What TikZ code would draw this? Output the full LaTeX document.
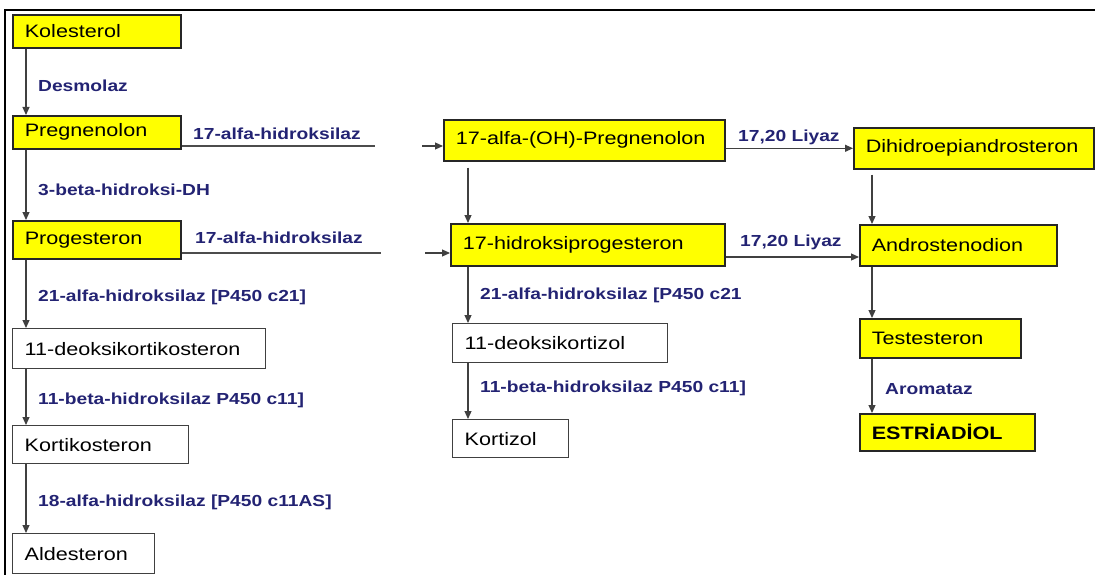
\documentclass[tikz,border=0pt]{standalone}
\usepackage{fontspec}
\setmainfont{Liberation Sans}[FakeStretch=1.2]
\usetikzlibrary{arrows.meta}
\definecolor{enzblue}{RGB}{35,35,115}
\definecolor{boxyellow}{RGB}{255,255,0}
\tikzset{
    %Define standard arrow tip
    >={Triangle[length=8pt,width=7pt]},
    %Define style for boxes
    hormone/.style={
           draw=black!85, line width=1.6pt,
           fill=boxyellow,
           anchor=north west,
           inner xsep=12pt, inner ysep=0pt,
           align=left,
           font=\fontsize{18}{20}\selectfont},
    whitebox/.style={
           hormone,
           draw=black!75, line width=1.3pt,
           fill=white},
    enzyme/.style={
           anchor=west, inner sep=0pt,
           text=enzblue,
           font=\fontsize{16}{18}\selectfont\bfseries},
    % Define arrow style
    pil/.style={
           ->,
           draw=black!75, line width=1.2pt},
    bar/.style={
           draw=black!70, line width=1.2pt}
}
\begin{document}
\begin{tikzpicture}[x=1pt,y=-1pt]
\useasboundingbox (0,0) rectangle (1095,575);
\draw[line width=2pt] (5,575) -- (5,10) -- (1095,10);
 %nodes, left column
\node[hormone, text width=144pt, minimum height=33pt](kol) at (12,14) {Kolesterol};
\node[hormone, text width=144pt, minimum height=33pt](preg) at (12,115) {Pregnenolon};
\node[hormone, text width=144pt, minimum height=38pt](prog) at (12,220) {Progesteron};
\node[whitebox, text width=229pt, minimum height=40pt](dkort) at (12,328) {11-deoksikortikosteron};
\node[whitebox, text width=152pt, minimum height=38pt](kort) at (12,425) {Kortikosteron};
\node[whitebox, text width=118pt, minimum height=40pt](ald) at (12,533) {Aldesteron};
 %nodes, middle column
\node[hormone, text width=257pt, minimum height=41pt](oh) at (443,119) {17-alfa-(OH)-Pregnenolon};
\node[hormone, text width=250pt, minimum height=42pt](ohp) at (450,223) {17-hidroksiprogesteron};
\node[whitebox, text width=191pt, minimum height=39pt](dkzol) at (452,323) {11-deoksikortizol};
\node[whitebox, text width=92pt, minimum height=38pt](kzol) at (452,419) {Kortizol};
 %nodes, right column
\node[hormone, text width=216pt, minimum height=41pt](dhea) at (853,127) {Dihidroepiandrosteron};
\node[hormone, text width=173pt, minimum height=41pt](andr) at (859,224) {Androstenodion};
\node[hormone, text width=137pt, minimum height=39pt](test) at (859,318) {Testesteron};
\node[hormone, text width=151pt, minimum height=37pt, font=\fontsize{18}{20}\selectfont\bfseries](estr) at (859,413) {ESTRİADİOL};
 %enzymes
\node[enzyme](desm) at (38,86) {Desmolaz};
\node[enzyme](hyda) at (193,134) {17-alfa-hidroksilaz};
\node[enzyme](bdh) at (38,190) {3-beta-hidroksi-DH};
\node[enzyme](hydb) at (195,238) {17-alfa-hidroksilaz};
\node[enzyme](hydc) at (38,297) {21-alfa-hidroksilaz [P450 c21]};
\node[enzyme](hydd) at (38,400) {11-beta-hidroksilaz P450 c11]};
\node[enzyme](hyde) at (38,502) {18-alfa-hidroksilaz [P450 c11AS]};
\node[enzyme](hydf) at (480,295) {21-alfa-hidroksilaz [P450 c21};
\node[enzyme](hydg) at (480,388) {11-beta-hidroksilaz P450 c11]};
\node[enzyme](lya) at (738,137) {17,20 Liyaz};
\node[enzyme](lyb) at (740,242) {17,20 Liyaz};
\node[enzyme](arom) at (885,389) {Aromataz};
 %helper coordinates
\coordinate (lft) at (26,0);
\coordinate (mid) at (468,0);
\coordinate (rgt) at (872,0);
\coordinate (ga) at (375,146);
\coordinate (gb) at (422,146);
\coordinate (gc) at (381,253);
\coordinate (gd) at (425,253);
\coordinate (ge) at (0,257);
 %connectors
\draw[pil] (kol.south -| lft) -- (preg.north -| lft);
\draw[pil] (preg.south -| lft) -- (prog.north -| lft);
\draw[pil] (prog.south -| lft) -- (dkort.north -| lft);
\draw[pil] (dkort.south -| lft) -- (kort.north -| lft);
\draw[pil] (kort.south -| lft) -- (ald.north -| lft);
\draw[bar] (preg.east |- ga) -- (ga);
\draw[pil] (gb) -- (oh.west |- gb);
\draw[bar] (prog.east |- gc) -- (gc);
\draw[pil] (gd) -- (ohp.west |- gd);
\draw[pil] ([yshift=-6pt]oh.south -| mid) -- (ohp.north -| mid);
\draw[pil] (ohp.south -| mid) -- (dkzol.north -| mid);
\draw[pil] (dkzol.south -| mid) -- (kzol.north -| mid);
\draw[pil] (oh.east |- dhea.west) -- (dhea.west);
\draw[pil] (ohp.east |- ge) -- (andr.west |- ge);
\draw[pil] ([yshift=-5pt]dhea.south -| rgt) -- (andr.north -| rgt);
\draw[pil] (andr.south -| rgt) -- (test.north -| rgt);
\draw[pil] (test.south -| rgt) -- (estr.north -| rgt);
\end{tikzpicture}
\end{document}
